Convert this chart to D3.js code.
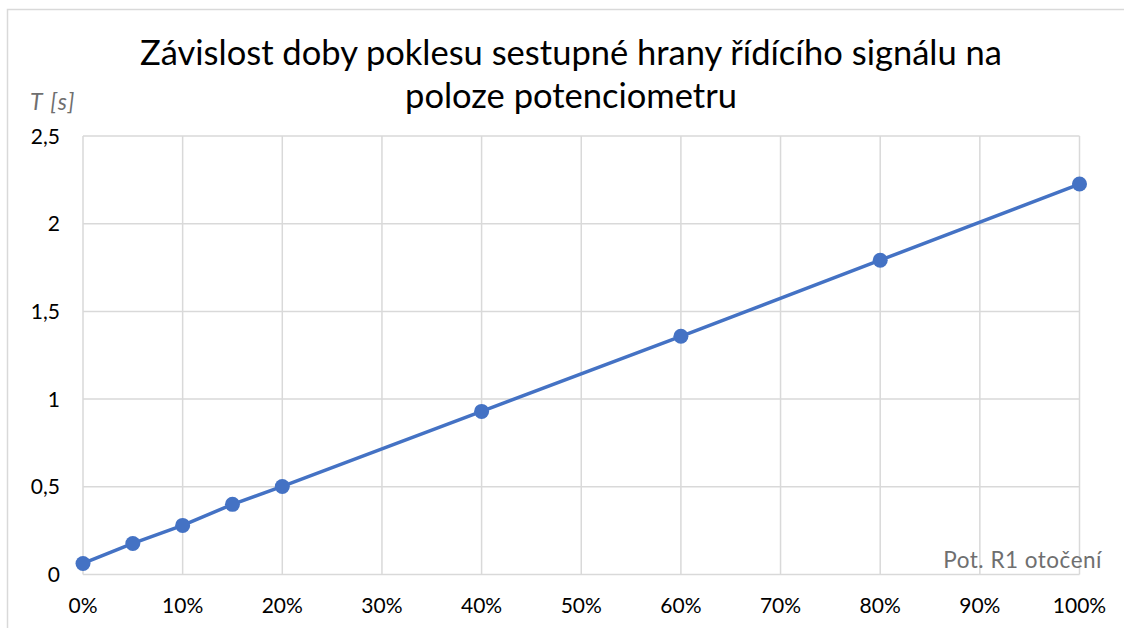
<!DOCTYPE html>
<html>
<head>
<meta charset="utf-8">
<script src="https://cdn.jsdelivr.net/npm/d3@7"></script>
<style>
  html, body { margin: 0; padding: 0; background: #fff; }
  svg { display: block; font-family: Lato, "Noto Sans", sans-serif; }
</style>
</head>
<body>
<div class="chart"></div>
<script>
// data
let polohy = [0, 5, 10, 15, 20, 40, 60, 80, 100];          // pot. R1 otočení [%]
let casy = [0.063, 0.177, 0.28, 0.40, 0.502, 0.93, 1.358, 1.792, 2.226]; // T [s]
let xTicks = [0, 10, 20, 30, 40, 50, 60, 70, 80, 90, 100];
let yTicks = [0, 0.5, 1, 1.5, 2, 2.5];
let titleLines = ["Závislost doby poklesu sestupné hrany řídícího signálu na", "poloze potenciometru"];

let W = 1124, H = 628;
let svg = d3.select(".chart")
    .append("svg")
    .attr("width", W)
    .attr("height", H);

// outer chart frame
svg.append("rect")
    .attr("x", 7.5).attr("y", 9.5)
    .attr("width", W + 20).attr("height", H + 20)
    .attr("fill", "none")
    .attr("stroke", "#d9d9d9")
    .attr("stroke-width", 1.5);

let x = d3.scaleLinear().domain([0, 100]).range([83, 1079.5]);
let y = d3.scaleLinear().domain([0, 2.5]).range([574.5, 136]);

// grid
svg.append("g")
    .selectAll("line.v")
    .data(xTicks)
    .enter()
    .append("line")
    .attr("x1", d => x(d)).attr("x2", d => x(d))
    .attr("y1", y(2.5)).attr("y2", y(0))
    .attr("stroke", "#d9d9d9")
    .attr("stroke-width", 1.5);

svg.append("g")
    .selectAll("line.h")
    .data(yTicks)
    .enter()
    .append("line")
    .attr("x1", x(0)).attr("x2", x(100))
    .attr("y1", d => y(d)).attr("y2", d => y(d))
    .attr("stroke", "#d9d9d9")
    .attr("stroke-width", 1.5);

// tick labels
svg.append("g")
    .selectAll("text")
    .data(yTicks)
    .enter()
    .append("text")
    .attr("x", 60)
    .attr("y", d => y(d) + 7.5)
    .attr("text-anchor", "end")
    .attr("font-size", 21)
    .attr("fill", "#000")
    .text(d => d3.format("")(d).replace(".", ","));

svg.append("g")
    .selectAll("text")
    .data(xTicks)
    .enter()
    .append("text")
    .attr("x", d => x(d))
    .attr("y", 613)
    .attr("text-anchor", "middle")
    .attr("font-size", 21)
    .attr("fill", "#000")
    .text(d => d + "%");

// series
let line = d3.line()
    .x((d, i) => x(polohy[i]))
    .y(d => y(d));

svg.append("path")
    .datum(casy)
    .attr("d", line)
    .attr("fill", "none")
    .attr("stroke", "#4472c4")
    .attr("stroke-width", 3.5)
    .attr("stroke-linejoin", "round");

svg.append("g")
    .selectAll("circle")
    .data(casy)
    .enter()
    .append("circle")
    .attr("cx", (d, i) => x(polohy[i]))
    .attr("cy", d => y(d))
    .attr("r", 7.5)
    .attr("fill", "#4472c4");

// title
svg.append("g")
    .selectAll("text")
    .data(titleLines)
    .enter()
    .append("text")
    .attr("x", 571)
    .attr("y", (d, i) => 65 + i * 43)
    .attr("text-anchor", "middle")
    .attr("font-size", 34.5)
    .attr("fill", "#000")
    .text(d => d);

// axis titles
svg.append("text")
    .attr("x", 30).attr("y", 110)
    .attr("font-size", 23)
    .attr("font-style", "italic")
    .attr("letter-spacing", 1.4)
    .attr("fill", "#6f6f6f")
    .text("T [s]");

svg.append("text")
    .attr("x", 1102).attr("y", 568)
    .attr("text-anchor", "end")
    .attr("font-size", 22.5)
    .attr("letter-spacing", 0.5)
    .attr("fill", "#6f6f6f")
    .text("Pot. R1 otočení");
</script>
</body>
</html>
